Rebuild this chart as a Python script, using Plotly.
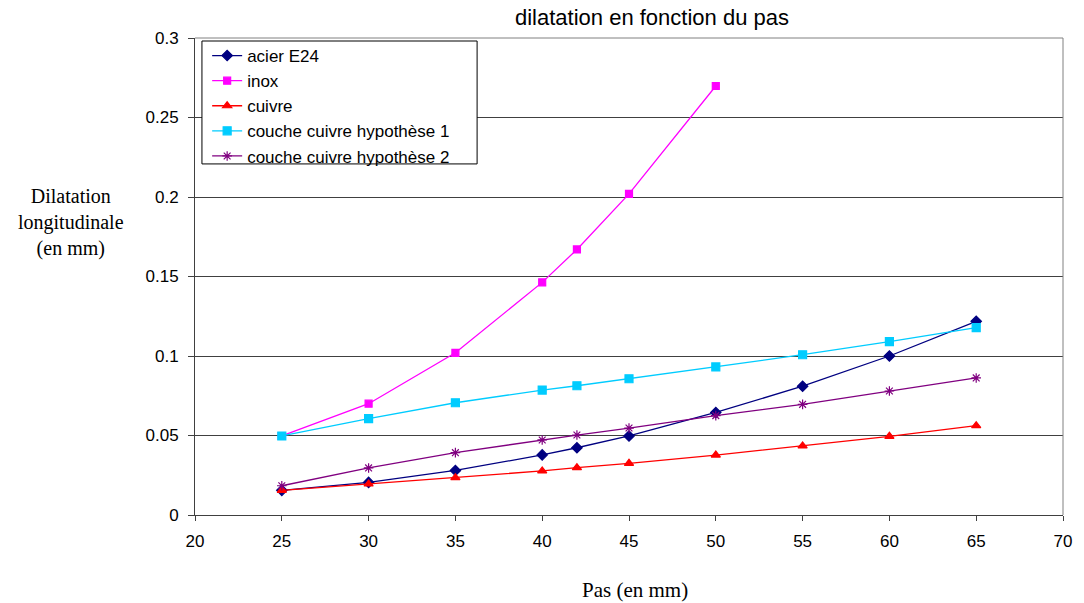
import plotly.graph_objects as go

x_all = [25, 30, 35, 40, 42, 45, 50, 55, 60, 65]
x_inox = [25, 30, 35, 40, 42, 45, 50]

acier = [0.0155, 0.0205, 0.028, 0.0378, 0.0423, 0.0497, 0.0645, 0.081, 0.100, 0.1218]
inox = [0.0497, 0.070, 0.102, 0.1463, 0.167, 0.202, 0.2698]
cuivre = [0.0155, 0.0195, 0.0235, 0.0277, 0.0298, 0.0325, 0.0377, 0.0434, 0.0495, 0.0562]
hyp1 = [0.0497, 0.0606, 0.0706, 0.0786, 0.0813, 0.0857, 0.0931, 0.1008, 0.109, 0.1178]
hyp2 = [0.0184, 0.0296, 0.0392, 0.0472, 0.0503, 0.0547, 0.0625, 0.0696, 0.078, 0.0862]

x_ticks = [20, 25, 30, 35, 40, 45, 50, 55, 60, 65, 70]
y_ticks = [0, 0.05, 0.1, 0.15, 0.2, 0.25, 0.3]
y_tick_text = ["0", "0.05", "0.1", "0.15", "0.2", "0.25", "0.3"]

fig = go.Figure()

def add(name, xs, ys, color, symbol, size):
    fig.add_trace(go.Scatter(
        x=xs, y=ys, name=name, mode="lines+markers",
        line=dict(color=color, width=1.3),
        marker=dict(color=color, symbol=symbol, size=size,
                    line=dict(color=color, width=1.2)),
    ))

add("acier E24", x_all, acier, "#000080", "diamond", 8)
add("inox", x_inox, inox, "#FF00FF", "square", 7)
add("cuivre", x_all, cuivre, "#FF0000", "triangle-up", 8)
add("couche cuivre hypothèse 1", x_all, hyp1, "#00CCFF", "square", 8)
add("couche cuivre hypothèse 2", x_all, hyp2, "#800080", "asterisk-open", 8)

fig.update_layout(
    width=1084, height=603,
    margin=dict(l=195, r=15, t=38, b=88),
    paper_bgcolor="white", plot_bgcolor="white",
    font=dict(family="Liberation Sans, Arial", size=17, color="black"),
    showlegend=True,
    legend=dict(
        x=0.014, y=1.0, xanchor="left", yanchor="top",
        bgcolor="rgba(0,0,0,0)", borderwidth=0,
        font=dict(family="Liberation Sans, Arial", size=17, color="black"),
        tracegroupgap=0,
    ),
    xaxis=dict(
        range=[20, 70], tickvals=x_ticks, ticks="outside", ticklen=5,
        tickcolor="#404040", showgrid=False, zeroline=False,
        showline=True, linecolor="#404040", linewidth=1,
        tickfont=dict(size=17), ticklabelstandoff=6,
    ),
    yaxis=dict(
        range=[0, 0.3], tickvals=y_ticks, ticktext=y_tick_text,
        ticks="outside", ticklen=6, tickcolor="#404040",
        showgrid=True, gridcolor="#404040", gridwidth=1, zeroline=False,
        showline=True, linecolor="#404040", linewidth=1,
        tickfont=dict(size=17), ticklabelstandoff=6,
    ),
    shapes=[
        dict(type="line", xref="paper", yref="paper", x0=1, x1=1, y0=0, y1=1,
             line=dict(color="#808080", width=1)),
        dict(type="line", xref="paper", yref="paper", x0=0, x1=1, y0=1, y1=1,
             line=dict(color="#808080", width=1)),
        dict(type="rect", xref="paper", yref="paper", x0=0.008, x1=0.325,
             y0=0.736, y1=0.9937, layer="above", fillcolor="white",
             line=dict(color="black", width=1)),
    ],
    annotations=[
        dict(text="dilatation en fonction du pas", x=0.527, y=1.0, xref="paper",
             yref="paper", yanchor="bottom", yshift=6, showarrow=False,
             font=dict(family="Liberation Sans, Arial", size=22)),
        dict(text="Pas (en mm)", x=0.507, y=-0.157, xref="paper", yref="paper",
             yanchor="middle", showarrow=False,
             font=dict(family="Liberation Serif, Times New Roman", size=21)),
        dict(text="Dilatation<br>longitudinale<br>(en mm)", x=-0.143, y=0.614,
             xref="paper", yref="paper", xanchor="center", yanchor="middle",
             showarrow=False, align="center",
             font=dict(family="Liberation Serif, Times New Roman", size=20)),
    ],
)

fig.write_html("out.html")
